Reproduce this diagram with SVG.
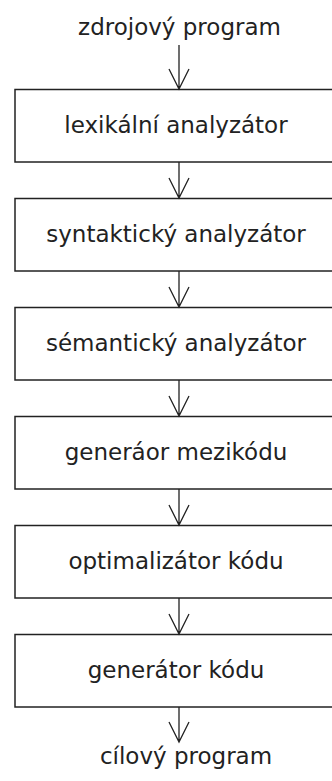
<svg xmlns="http://www.w3.org/2000/svg" width="332" height="781" viewBox="0 0 332 781">
<style>
.box{fill:#fff;stroke:#222;stroke-width:1.5}
.t{font-family:"DejaVu Sans",sans-serif;font-size:23px;fill:#222;text-anchor:middle}
.c{fill:none;stroke:#222;stroke-width:1.3}
</style>
<rect width="332" height="781" fill="#fff"/>
<g id="src"><text class="t" x="179.5" y="35">zdrojový program</text></g>
<g id="n1"><rect class="box" x="15" y="89.5" width="330" height="72.5"/><text class="t" x="176" y="132.5">lexikální analyzátor</text></g>
<g id="n2"><rect class="box" x="15" y="198.5" width="330" height="72.5"/><text class="t" x="176" y="241.5">syntaktický analyzátor</text></g>
<g id="n3"><rect class="box" x="15" y="307.5" width="330" height="72.5"/><text class="t" x="176" y="350.5">sémantický analyzátor</text></g>
<g id="n4"><rect class="box" x="15" y="416.5" width="330" height="72.5"/><text class="t" x="176" y="459.5">generáor mezikódu</text></g>
<g id="n5"><rect class="box" x="15" y="525.5" width="330" height="72.5"/><text class="t" x="176" y="568.5">optimalizátor kódu</text></g>
<g id="n6"><rect class="box" x="15" y="634.5" width="330" height="72.5"/><text class="t" x="176" y="677.5">generátor kódu</text></g>
<g id="dst"><text class="t" x="186" y="764">cílový program</text></g>
<g id="connectors">
<path class="c" d="M179 45V89M169 69L179 89L189 69"/>
<path class="c" d="M179 162V198M169 178L179 198L189 178"/>
<path class="c" d="M179 271V307M169 287L179 307L189 287"/>
<path class="c" d="M179 380V416M169 396L179 416L189 396"/>
<path class="c" d="M179 489V525M169 505L179 525L189 505"/>
<path class="c" d="M179 598V634M169 614L179 634L189 614"/>
<path class="c" d="M179 707V742M169 722L179 742L189 722"/>
</g>
</svg>
